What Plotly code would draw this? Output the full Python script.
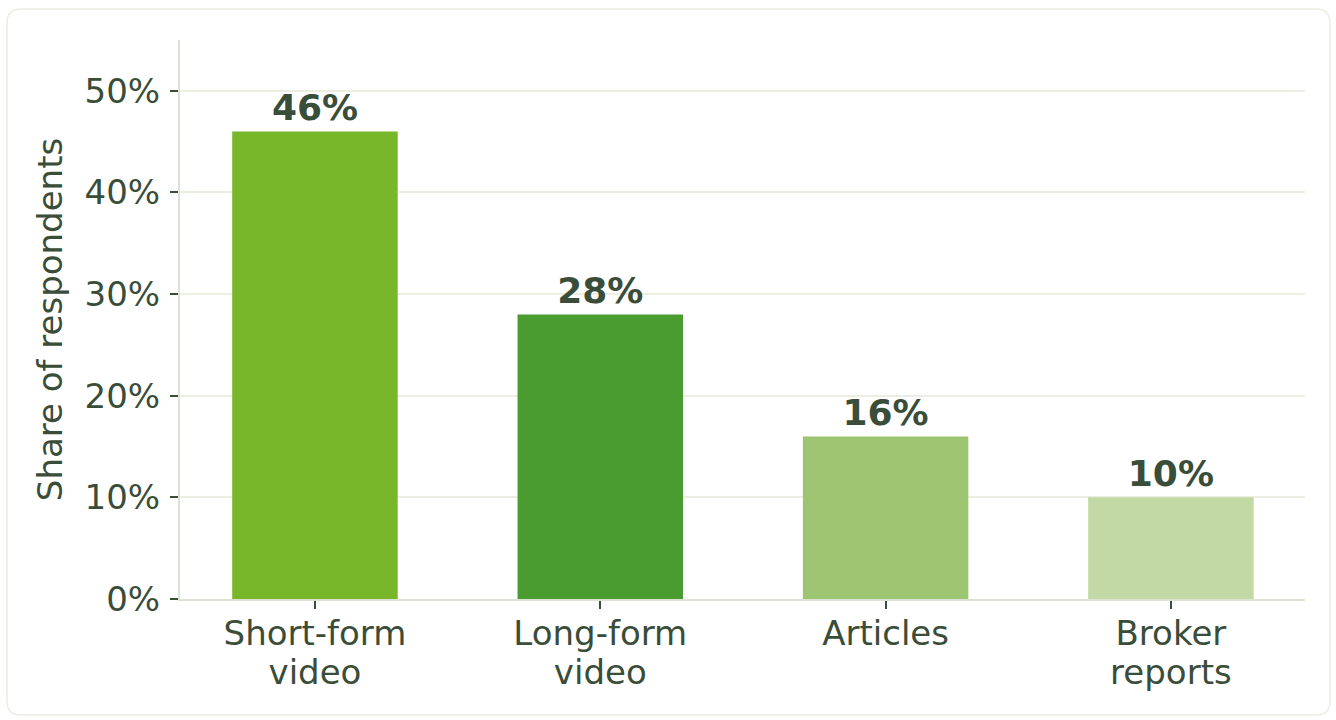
import plotly.graph_objects as go

categories = ["Short-form<br>video", "Long-form<br>video", "Articles", "Broker<br>reports"]
shares = [46, 28, 16, 10]
bar_colors = ["#78b72a", "#4a9c30", "#9dc470", "#c2d9a5"]
y_ticks = [0, 10, 20, 30, 40, 50]
y_tick_labels = [f"{v}%" for v in y_ticks]

TEXT = "#3a4d39"
FONT = "DejaVu Sans"

fig = go.Figure(
    go.Bar(
        x=categories,
        y=shares,
        marker=dict(color=bar_colors, line=dict(width=0)),
        text=[f"<b>{v}%</b>" for v in shares],
        textposition="outside",
        textfont=dict(family=FONT, size=36, color=TEXT),
        cliponaxis=False,
        hoverinfo="skip",
    )
)

# rounded card behind the chart, sized in pixels from the plot's lower-left corner
L, R, B, T, rad = -173, 1150, -116, 590, 14
card_path = (
    f"M {L + rad},{B} L {R - rad},{B} Q {R},{B} {R},{B + rad} "
    f"L {R},{T - rad} Q {R},{T} {R - rad},{T} "
    f"L {L + rad},{T} Q {L},{T} {L},{T - rad} "
    f"L {L},{B + rad} Q {L},{B} {L + rad},{B} Z"
)
fig.add_shape(
    type="path",
    xref="paper", yref="paper",
    xsizemode="pixel", ysizemode="pixel",
    xanchor=0, yanchor=0,
    path=card_path,
    line=dict(color="#ebeee3", width=1.5),
    fillcolor="rgba(0,0,0,0)",
    layer="below",
)

# category labels: larger glyphs on a tighter line pitch
x_tick_text = [
    "<br>".join(f'<span style="font-size:34px">{part}</span>' for part in c.split("<br>"))
    for c in categories
]

fig.update_layout(
    width=1336,
    height=720,
    margin=dict(l=180, r=31, t=40, b=121),
    paper_bgcolor="white",
    plot_bgcolor="white",
    bargap=0.42,
    showlegend=False,
    font=dict(family=FONT, color=TEXT),
    xaxis=dict(
        range=[-0.473, 3.47],
        tickvals=categories,
        ticktext=x_tick_text,
        showline=True,
        linecolor="#dde3d3",
        linewidth=2,
        ticks="outside",
        ticklen=8,
        tickwidth=1.5,
        tickcolor=TEXT,
        tickfont=dict(family=FONT, size=30, color=TEXT),
        showgrid=False,
        fixedrange=True,
    ),
    yaxis=dict(
        range=[0, 55],
        tickvals=y_ticks,
        ticktext=y_tick_labels,
        showline=True,
        linecolor="#dde3d3",
        linewidth=2,
        ticks="outside",
        ticklen=8,
        tickwidth=1.5,
        tickcolor=TEXT,
        tickfont=dict(family=FONT, size=34, color=TEXT),
        ticklabelstandoff=3,
        showgrid=True,
        gridcolor="#eceee2",
        gridwidth=2,
        zeroline=False,
        title=dict(text="Share of respondents", font=dict(family=FONT, size=34, color=TEXT), standoff=12),
        fixedrange=True,
    ),
)

fig.write_html("out.html", config={"displayModeBar": False})
